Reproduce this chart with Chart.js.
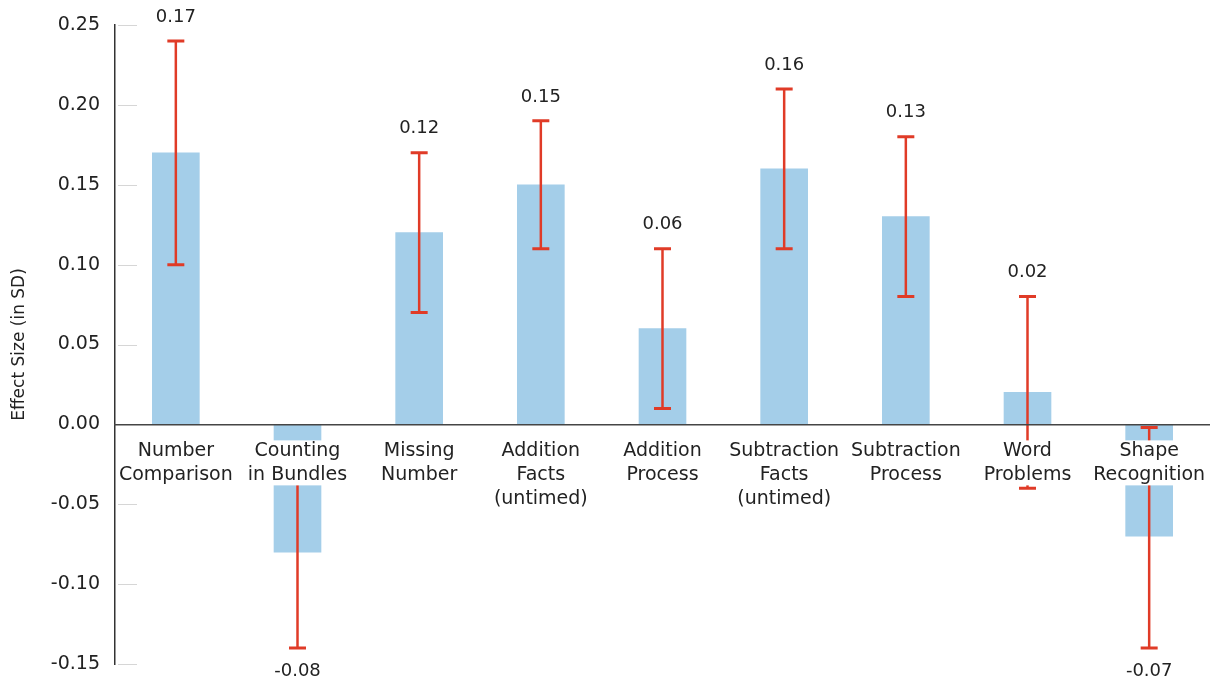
<!DOCTYPE html>
<html>
<head>
<meta charset="utf-8">
<title>Effect Size by Subtest</title>
<script src="https://cdn.jsdelivr.net/npm/chart.js@4/dist/chart.umd.min.js"></script>
<style>
  html, body { margin: 0; padding: 0; background: #ffffff; }
  #wrap { width: 1210px; height: 686px; position: relative; }
</style>
</head>
<body>
<div id="wrap"><canvas id="chart"></canvas></div>
<script>
// Subtest names (multi-line category labels)
const categories = [
  ["Number", "Comparison"],
  ["Counting", "in Bundles"],
  ["Missing", "Number"],
  ["Addition", "Facts", "(untimed)"],
  ["Addition", "Process"],
  ["Subtraction", "Facts", "(untimed)"],
  ["Subtraction", "Process"],
  ["Word", "Problems"],
  ["Shape", "Recognition"]
];
// Effect size estimates (SD units)
const effectSize = [0.17, -0.08, 0.12, 0.15, 0.06, 0.16, 0.13, 0.02, -0.07];
// Confidence interval bounds
const ciLow  = [0.10, -0.14, 0.07, 0.11, 0.01, 0.11, 0.08, -0.04, -0.14];
const ciHigh = [0.24, -0.02, 0.17, 0.19, 0.11, 0.21, 0.18, 0.08, -0.002];
// Value axis range and step
const yMin = -0.15, yMax = 0.25, yStep = 0.05;

const FONT = "'DejaVu Sans', 'Noto Sans', sans-serif";
const TEXT = '#222222';
const BAR = '#a4cee9';
const ERR = '#e03b27';
const X_PAD = 15;
const LINE_H = 24;
const X_FONT_SIZE = 19;

// Short inward tick marks next to the value axis
const innerTicks = {
  id: 'innerTicks',
  beforeDatasetsDraw(chart) {
    const y = chart.scales.y;
    const ctx = chart.ctx;
    ctx.save();
    ctx.strokeStyle = '#d6d6d6';
    ctx.lineWidth = 1;
    y.ticks.forEach((t) => {
      if (Math.abs(t.value) < 1e-9) return;
      const py = Math.round(y.getPixelForValue(t.value)) + 0.5;
      ctx.beginPath();
      ctx.moveTo(y.right + 3, py);
      ctx.lineTo(y.right + 22, py);
      ctx.stroke();
    });
    ctx.restore();
  }
};

// Error bars, white label plates and value labels
const errorBars = {
  id: 'errorBars',
  afterDatasetsDraw(chart) {
    const ctx = chart.ctx;
    const x = chart.scales.x;
    const y = chart.scales.y;
    const meta = chart.getDatasetMeta(0);
    ctx.save();
    ctx.strokeStyle = ERR;
    meta.data.forEach((bar, i) => {
      const cx = bar.x;
      const yHi = y.getPixelForValue(ciHigh[i]);
      const yLo = y.getPixelForValue(ciLow[i]);
      ctx.lineWidth = 2.5;
      ctx.beginPath();
      ctx.moveTo(cx, yHi);
      ctx.lineTo(cx, yLo);
      ctx.stroke();
      ctx.lineWidth = 3;
      ctx.beginPath();
      ctx.moveTo(cx - 8.5, yHi); ctx.lineTo(cx + 8.5, yHi);
      ctx.moveTo(cx - 8.5, yLo); ctx.lineTo(cx + 8.5, yLo);
      ctx.stroke();
    });

    // White plates behind the category labels (kept clear of the value axis)
    const zeroPx = y.getPixelForValue(0);
    const leftLimit = chart.chartArea.left + 1;
    ctx.font = X_FONT_SIZE + 'px ' + FONT;
    ctx.fillStyle = '#ffffff';
    categories.forEach((lines, i) => {
      const cx = x.getPixelForTick(i);
      let w = 0;
      lines.forEach((l) => { w = Math.max(w, ctx.measureText(l).width); });
      const top = zeroPx + X_PAD + 1;
      const h = lines.length * LINE_H - 3;
      const left = Math.max(cx - w / 2 - 2, leftLimit);
      const right = cx + w / 2 + 2;
      ctx.fillRect(left, top, right - left, h);
    });

    // Value labels beyond the interval ends
    ctx.font = '18px ' + FONT;
    ctx.fillStyle = TEXT;
    ctx.textAlign = 'center';
    ctx.textBaseline = 'middle';
    meta.data.forEach((bar, i) => {
      const v = effectSize[i];
      const txt = v.toFixed(2);
      if (v >= 0) {
        ctx.fillText(txt, bar.x, y.getPixelForValue(ciHigh[i]) - 24);
      } else {
        ctx.fillText(txt, bar.x, y.getPixelForValue(ciLow[i]) + 23);
      }
    });
    ctx.restore();
  }
};

new Chart(document.getElementById('chart'), {
  type: 'bar',
  data: {
    labels: categories,
    datasets: [{
      data: effectSize,
      backgroundColor: BAR,
      borderWidth: 0,
      barThickness: 47
    }]
  },
  options: {
    responsive: true,
    maintainAspectRatio: false,
    animation: false,
    layout: { autoPadding: false, padding: { left: 0, right: 0, top: 25, bottom: 22 } },
    plugins: {
      legend: { display: false },
      tooltip: { enabled: false }
    },
    scales: {
      x: {
        type: 'category',
        position: { y: 0 },
        offset: true,
        grid: { display: false, drawTicks: false },
        border: { display: true, color: '#454545', width: 1.5, z: 1 },
        ticks: {
          z: 1,
          autoSkip: false,
          maxRotation: 0,
          minRotation: 0,
          padding: X_PAD,
          color: TEXT,
          font: { family: FONT, size: X_FONT_SIZE, lineHeight: LINE_H / X_FONT_SIZE }
        },
        afterFit(s) {
          s.height = 0;
          s.paddingLeft = 0;
          s.paddingRight = 0;
        }
      },
      y: {
        type: 'linear',
        min: yMin,
        max: yMax,
        grid: { display: false, drawTicks: false },
        border: { display: true, color: '#333333', width: 1.5 },
        ticks: {
          stepSize: yStep,
          padding: 15,
          color: TEXT,
          font: { family: FONT, size: 19 },
          callback: (v) => (Math.abs(v) < 1e-9 ? 0 : v).toFixed(2)
        },
        title: {
          display: true,
          text: 'Effect Size (in SD)',
          color: TEXT,
          font: { family: FONT, size: 17 },
          padding: { top: 9, bottom: 0 }
        },
        afterFit(s) {
          s.width = 115;
          s.paddingTop = 0;
          s.paddingBottom = 0;
        }
      }
    }
  },
  plugins: [innerTicks, errorBars]
});
</script>
</body>
</html>
